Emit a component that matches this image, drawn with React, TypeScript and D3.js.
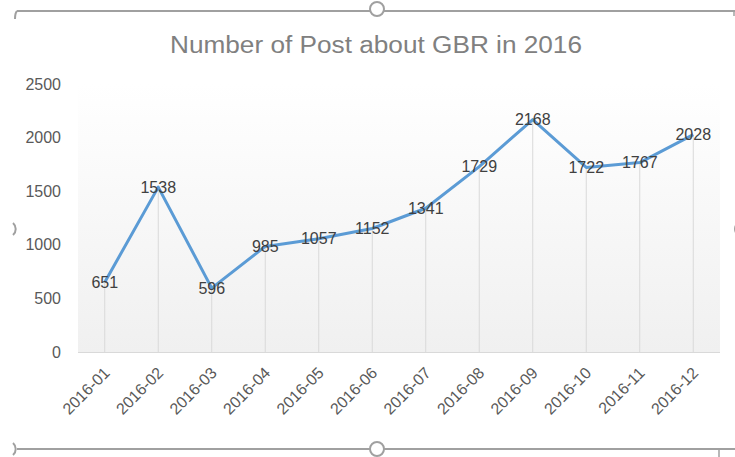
import React, { useEffect, useRef } from 'react';
import * as d3 from 'd3';

const months = ['2016-01', '2016-02', '2016-03', '2016-04', '2016-05', '2016-06', '2016-07', '2016-08', '2016-09', '2016-10', '2016-11', '2016-12'];
const posts = [651, 1538, 596, 985, 1057, 1152, 1341, 1729, 2168, 1722, 1767, 2028];
const yTicks = [0, 500, 1000, 1500, 2000, 2500];

const App = () => {
  const ref = useRef<SVGSVGElement>(null);

  useEffect(() => {
    const svg = d3.select(ref.current);
    svg.selectAll('*').remove();

    const width = 735;
    const height = 457;
    const left = 78, right = 720, top = 84, bottom = 352;
    const font = 'Liberation Sans, Arial, sans-serif';

    const x = d3.scaleBand().domain(months).range([left, right]);
    const y = d3.scaleLinear().domain([0, 2500]).range([bottom, top]);
    const cx = (m: string) => (x(m) as number) + x.bandwidth() / 2;

    svg.append('rect').attr('width', width).attr('height', height).attr('fill', '#fff');

    // plot area gradient
    const defs = svg.append('defs');
    const grad = defs.append('linearGradient').attr('id', 'plotGrad').attr('x1', 0).attr('y1', 0).attr('x2', 0).attr('y2', 1);
    grad.append('stop').attr('offset', '0%').attr('stop-color', '#ffffff');
    grad.append('stop').attr('offset', '100%').attr('stop-color', '#f0f0f0');
    svg.append('rect')
      .attr('x', left).attr('y', top)
      .attr('width', right - left).attr('height', bottom - top)
      .attr('fill', 'url(#plotGrad)');

    // title
    svg.append('text')
      .attr('x', 376).attr('y', 53)
      .attr('text-anchor', 'middle')
      .attr('textLength', 412)
      .attr('lengthAdjust', 'spacingAndGlyphs')
      .style('font-family', font)
      .style('font-size', '23px')
      .attr('fill', '#808080')
      .text('Number of Post about GBR in 2016');

    // y axis labels
    svg.selectAll('.ylab')
      .data(yTicks)
      .enter()
      .append('text')
      .attr('class', 'ylab')
      .attr('x', 61)
      .attr('y', d => y(d))
      .attr('dy', '0.35em')
      .attr('text-anchor', 'end')
      .style('font-family', font)
      .style('font-size', '16px')
      .attr('fill', '#595959')
      .text(d => d);

    // drop lines
    svg.selectAll('.drop')
      .data(posts)
      .enter()
      .append('line')
      .attr('x1', (d, i) => cx(months[i]))
      .attr('x2', (d, i) => cx(months[i]))
      .attr('y1', d => y(d))
      .attr('y2', bottom)
      .attr('stroke', '#d9d9d9')
      .attr('stroke-width', 1);

    // baseline
    svg.append('line')
      .attr('x1', left).attr('x2', right)
      .attr('y1', bottom + 0.5).attr('y2', bottom + 0.5)
      .attr('stroke', '#d9d9d9');

    // x labels
    svg.selectAll('.xlab')
      .data(months)
      .enter()
      .append('text')
      .attr('transform', d => `translate(${cx(d) + 2},${bottom + 18}) rotate(-45)`)
      .attr('text-anchor', 'end')
      .attr('dy', '0.35em')
      .style('font-family', font)
      .style('font-size', '16px')
      .attr('fill', '#595959')
      .text(d => d);

    // line
    const line = d3.line<number>()
      .x((d, i) => cx(months[i]))
      .y(d => y(d));
    svg.append('path')
      .datum(posts)
      .attr('d', line)
      .attr('fill', 'none')
      .attr('stroke', '#5b9bd5')
      .attr('stroke-width', 3)
      .attr('stroke-linejoin', 'round');

    // data labels
    svg.selectAll('.dlab')
      .data(posts)
      .enter()
      .append('text')
      .attr('x', (d, i) => cx(months[i]))
      .attr('y', d => y(d))
      .attr('dy', '0.35em')
      .attr('text-anchor', 'middle')
      .style('font-family', font)
      .style('font-size', '16px')
      .attr('fill', '#404040')
      .text(d => d);

    // selection frame and handles
    const frame = '#a0a0a0';
    svg.append('line').attr('x1', 17).attr('x2', 735).attr('y1', 11).attr('y2', 11).attr('stroke', frame).attr('stroke-width', 2);
    svg.append('line').attr('x1', 17).attr('x2', 735).attr('y1', 449).attr('y2', 449).attr('stroke', frame).attr('stroke-width', 2);
    svg.append('line').attr('x1', 719).attr('x2', 719).attr('y1', 449).attr('y2', 457).attr('stroke', frame).attr('stroke-width', 1.5);
    svg.append('path').attr('d', 'M17,11 Q15,13 15,19').attr('fill', 'none').attr('stroke', frame).attr('stroke-width', 2);
    svg.append('line').attr('x1', 734).attr('x2', 734).attr('y1', 11).attr('y2', 16).attr('stroke', frame).attr('stroke-width', 1.5);

    // side handles, only their right arcs show
    svg.selectAll('.sideArc')
      .data([229, 449])
      .enter()
      .append('path')
      .attr('d', d => `M13,${d - 6} A8,8 0 0 1 13,${d + 6}`)
      .attr('fill', 'none')
      .attr('stroke', frame)
      .attr('stroke-width', 2);

    const handles = [[377, 9], [377, 449], [742, 229]];
    svg.selectAll('.handle')
      .data(handles)
      .enter()
      .append('circle')
      .attr('cx', d => d[0])
      .attr('cy', d => d[1])
      .attr('r', 7)
      .attr('fill', '#fff')
      .attr('stroke', frame)
      .attr('stroke-width', 2);
  }, []);

  return (
    <svg ref={ref} width={735} height={457} style={{ position: 'absolute', left: 0, top: 0 }} />
  );
};

export default App;
